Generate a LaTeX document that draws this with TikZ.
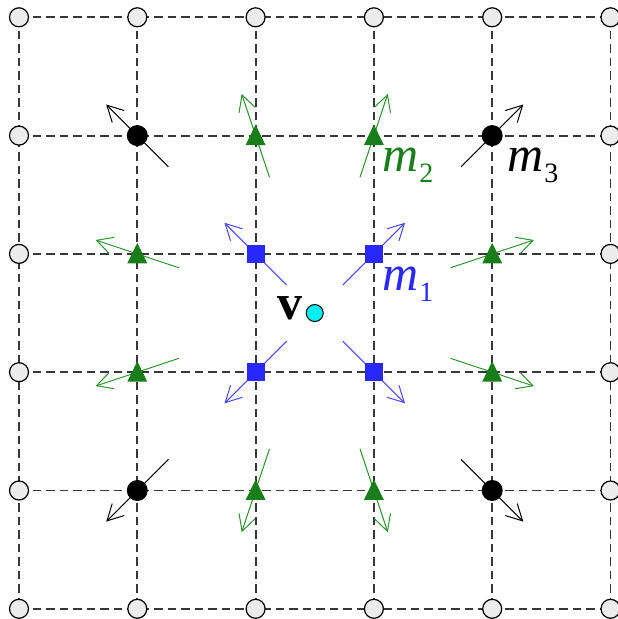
\documentclass[tikz,border=0pt]{standalone}
\usepackage{fontspec}
\setmainfont{Liberation Serif}
\usetikzlibrary{arrows.meta,calc}
\definecolor{gridc}{RGB}{55,55,55}
\definecolor{bluem}{RGB}{40,40,250}
\definecolor{bluea}{RGB}{70,70,250}
\definecolor{greenm}{RGB}{25,125,25}
\definecolor{greena}{RGB}{45,145,45}
\definecolor{cyanm}{RGB}{0,240,240}
\definecolor{vtxfill}{RGB}{236,236,236}
\begin{document}
\begin{tikzpicture}[x=1pt,y=1pt,
  gridline/.style={draw=gridc, line width=1.9pt, dash pattern=on 8.5pt off 5pt},
  bcirc/.style={circle, draw=black, fill=vtxfill, line width=1.2pt, minimum size=19pt, inner sep=0pt},
  blk/.style={circle, fill=black, minimum size=21pt, inner sep=0pt},
  sq/.style={rectangle, fill=bluem, minimum size=18pt, inner sep=0pt},
  vdot/.style={circle, draw=black, fill=cyanm, line width=1pt, minimum size=17pt, inner sep=0pt},
  arr/.style={line width=1pt, -{Straight Barb[length=16pt,width=17pt]}},
  lab/.style={anchor=base west, inner sep=0pt, font=\fontsize{50}{50}\selectfont}]
\useasboundingbox (0,0) rectangle (618,619);
% lattice positions
\foreach \i in {0,...,5}{
  \foreach \j in {0,...,5}{
    \coordinate (c-\i-\j) at ({19+118.3*\i},{601.7-118.3*\j});
  }
}
\coordinate (vc) at ({19+118.3*2.5},{601.7-118.3*2.5});
% dashed grid
\foreach \k in {0,...,5}{
  \draw[gridline] (c-0-\k) -- (c-5-\k);
  \draw[gridline] (c-\k-0) -- (c-\k-5);
}
% border vertices
\foreach \i/\j in {0/0,1/0,2/0,3/0,4/0,5/0,0/5,1/5,2/5,3/5,4/5,5/5,0/1,0/2,0/3,0/4,5/1,5/2,5/3,5/4}{
  \node[bcirc] (v-\i-\j) at (c-\i-\j) {};
}
% arrows pointing away from v
\foreach \i/\j/\col in {1/1/black,4/1/black,1/4/black,4/4/black,
  2/1/greena,3/1/greena,1/2/greena,4/2/greena,1/3/greena,4/3/greena,2/4/greena,3/4/greena,
  2/2/bluea,3/2/bluea,2/3/bluea,3/3/bluea}{
  \draw[arr, draw=\col] ($(c-\i-\j)!44pt!(vc)$) -- ($(c-\i-\j)!-44pt!(vc)$);
}
% markers
\foreach \i/\j in {1/1,4/1,1/4,4/4}{
  \node[blk] (k-\i-\j) at (c-\i-\j) {};
}
\foreach \i/\j in {2/2,3/2,2/3,3/3}{
  \node[sq] (s-\i-\j) at (c-\i-\j) {};
}
\foreach \i/\j in {2/1,3/1,1/2,4/2,1/3,4/3,2/4,3/4}{
  \fill[greenm] ($(c-\i-\j)+(-10,-9.5)$) -- ($(c-\i-\j)+(10,-9.5)$) -- ($(c-\i-\j)+(0,11)$) -- cycle;
}
% centre point v
\node[vdot] (v) at (vc) {};
\node[anchor=base, inner sep=0pt, font=\fontsize{50}{50}\selectfont\bfseries] (vlab) at (290,299) {v};
% labels
\node[lab, text=bluem] (m1) at (382,328) {\textit{m}\kern1pt\raisebox{-11pt}{\fontsize{28}{28}\selectfont 1}};
\node[lab, text=greenm] (m2) at (382,447) {\textit{m}\kern1pt\raisebox{-11pt}{\fontsize{28}{28}\selectfont 2}};
\node[lab, text=black] (m3) at (507,447) {\textit{m}\kern1pt\raisebox{-11pt}{\fontsize{28}{28}\selectfont 3}};
\end{tikzpicture}
\end{document}
